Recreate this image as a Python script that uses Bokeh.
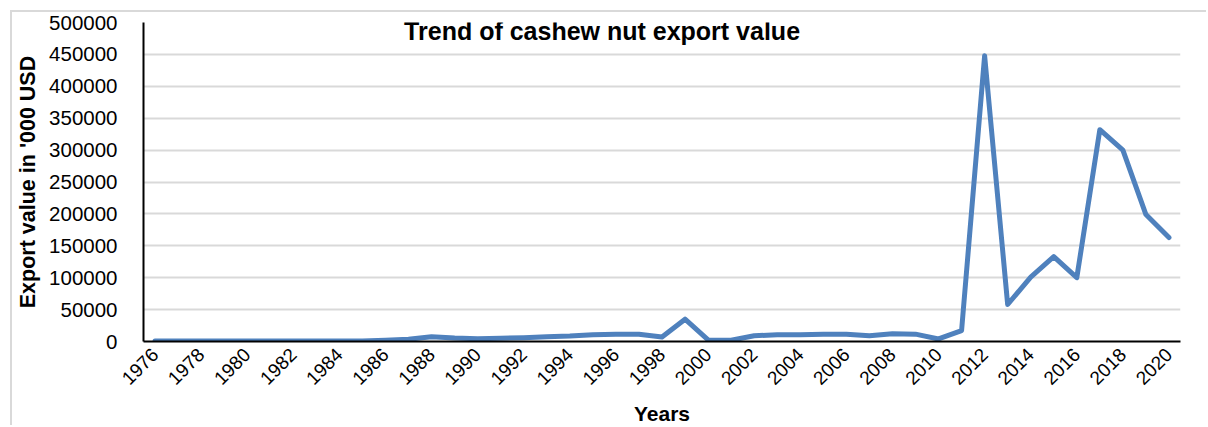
import math
from bokeh.plotting import figure
from bokeh.models import Range1d, FixedTicker, BasicTickFormatter, Label
from bokeh.embed import file_html
from bokeh.resources import INLINE

years = list(range(1976, 2021))
export_values = [800, 800, 700, 700, 600, 700, 800, 900, 800, 600,
                 2000, 3500, 7500, 5500, 4500, 5000, 6000, 7500, 8500, 10500,
                 11500, 11500, 7000, 35000, 2500, 2000, 9000, 10500, 10500, 11500,
                 11500, 9000, 12000, 11500, 4000, 17000, 448000, 58000, 101000, 133000,
                 100000, 332000, 300000, 199000, 163000]
x_tick_years = list(range(1976, 2021, 2))
y_ticks = list(range(0, 500001, 50000))

title_text = "Trend of cashew nut export value"
x_label = "Years"
y_label = "Export value in '000 USD"

FONT = "Liberation Sans"

p = figure(width=1196, height=415, output_backend="svg", toolbar_location=None,
           x_range=Range1d(1975.5, 2020.5), y_range=Range1d(0, 500000),
           min_border_left=131, min_border_right=28, min_border_top=10, min_border_bottom=85)
p.margin = (10, 0, 0, 10)
p.styles = {"border-top": "2px solid #d9d9d9", "border-left": "2px solid #d9d9d9"}
p.outline_line_color = None
p.background_fill_color = "white"
p.border_fill_color = "white"

p.line(years, export_values, line_color="#4f81bd", line_width=5, line_join="round", line_cap="round")

# axes
p.xaxis.ticker = FixedTicker(ticks=x_tick_years)
p.xaxis.major_label_orientation = math.pi / 4
p.xaxis.major_tick_line_color = None
p.xaxis.minor_tick_line_color = None
p.xaxis.axis_line_color = "black"
p.xaxis.axis_line_width = 2
p.xaxis.major_label_text_font = FONT
p.xaxis.major_label_text_font_size = "19px"
p.xaxis.major_label_text_color = "black"
p.xaxis.major_label_standoff = 4
p.xaxis.axis_label = x_label
p.xaxis.axis_label_text_font = FONT
p.xaxis.axis_label_text_font_style = "bold"
p.xaxis.axis_label_text_font_size = "21px"
p.xaxis.axis_label_text_color = "black"
p.xaxis.axis_label_standoff = 8

p.yaxis.ticker = FixedTicker(ticks=y_ticks)
p.yaxis.formatter = BasicTickFormatter(use_scientific=False)
p.yaxis.major_tick_line_color = None
p.yaxis.minor_tick_line_color = None
p.yaxis.axis_line_color = "black"
p.yaxis.axis_line_width = 2
p.yaxis.major_label_text_font = FONT
p.yaxis.major_label_text_font_size = "20.5px"
p.yaxis.major_label_text_color = "black"
p.yaxis.major_label_standoff = 20
p.yaxis.axis_label = y_label
p.yaxis.axis_label_text_font = FONT
p.yaxis.axis_label_text_font_style = "bold"
p.yaxis.axis_label_text_font_size = "21.5px"
p.yaxis.axis_label_text_color = "black"
p.yaxis.axis_label_standoff = 6

p.xgrid.grid_line_color = None
p.ygrid.grid_line_color = "#d9d9d9"
p.ygrid.grid_line_width = 2

# title placed over the top of the plot area
p.add_layout(Label(x=1995.4, y=487000, text=title_text, text_align="center", text_baseline="middle",
                   text_font=FONT, text_font_style="bold", text_font_size="25px", text_color="black"))

open("out.html", "w").write(file_html(p, INLINE))
